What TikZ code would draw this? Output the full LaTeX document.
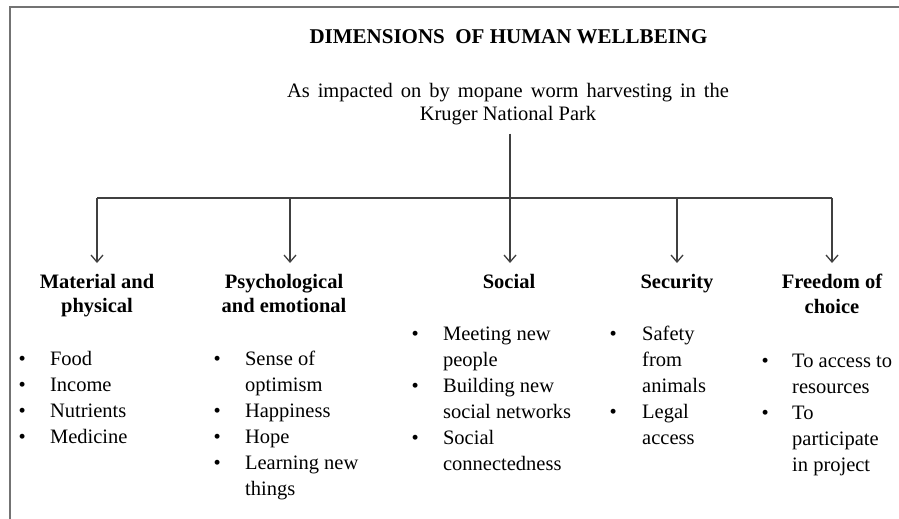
\documentclass[tikz,border=0pt]{standalone}
\usepackage{fontspec}
\setmainfont{Liberation Serif}
\usetikzlibrary{arrows.meta}
% one bullet cell of a list column
\newcommand\dotcell{\makebox[31.5pt][l]{\textbullet}}
\begin{document}
\begin{tikzpicture}[x=1pt,y=-1pt,
  frame/.style={draw=black!55, line width=2pt},
  link/.style={draw=black!75, line width=1.3pt},
  feed/.style={link, -{Straight Barb[length=7pt,width=12pt]}, shorten >=11pt},
  titletext/.style={font=\fontsize{21}{25}\bfseries, inner sep=0pt, anchor=base},
  subtext/.style={font=\fontsize{20.5}{23}\selectfont, align=center, inner sep=0pt, anchor=north},
  head/.style={font=\fontsize{20.5}{24.5}\bfseries, align=center, inner sep=0pt, anchor=north},
  items/.style={font=\fontsize{20.5}{26}\selectfont, inner sep=0pt, anchor=base west},
]
\useasboundingbox (0,0) rectangle (899,519);
\fill[white] (0,0) rectangle (899,519);

% open frame along the top and left edges
\draw[frame] (9.5,519) -- (9.5,7.5) -- (899,7.5);

% title and subtitle
\node[titletext] (title) at (508.5,44) {DIMENSIONS\ \ OF HUMAN WELLBEING};
\node[subtext] (sub) at (508,83) {\makebox[442pt][s]{As impacted on by mopane worm harvesting in the}\\[0pt]
  Kruger National Park};

% the five dimensions
\node[head] (h1) at (97,274)  {Material and\\physical};
\node[head] (h2) at (284,274) {Psychological\\and emotional};
\node[head] (h3) at (509,274) {Social};
\node[head] (h4) at (677,274) {Security};
\node[head] (h5) at (832,274) {Freedom of\\choice};

% connectors: stem, bus and one arrow per dimension
\coordinate (jn) at (510,198);
\coordinate (b1) at (97,198);
\coordinate (b2) at (290,198);
\coordinate (b3) at (510,198);
\coordinate (b4) at (677,198);
\coordinate (b5) at (832,198);
\draw[link, shorten <=8.5pt] (jn |- sub.south) -- (jn);
\draw[link] (b1) -- (b5);
\foreach \i in {1,...,5} {
  \draw[feed] (b\i) -- (b\i |- h\i.north);
}

% item lists
\node[items] (l1) at (18.4,365) {\begin{tabular}[t]{@{}l@{}l@{}}
  \dotcell & Food\\
  \dotcell & Income\\
  \dotcell & Nutrients\\
  \dotcell & Medicine
\end{tabular}};
\node[items] (l2) at (213.4,365) {\begin{tabular}[t]{@{}l@{}l@{}}
  \dotcell & Sense of\\
           & optimism\\
  \dotcell & Happiness\\
  \dotcell & Hope\\
  \dotcell & Learning new\\
           & things
\end{tabular}};
\node[items] (l3) at (411.4,340) {\begin{tabular}[t]{@{}l@{}l@{}}
  \dotcell & Meeting new\\
           & people\\
  \dotcell & Building new\\
           & social networks\\
  \dotcell & Social\\
           & connectedness
\end{tabular}};
\node[items] (l4) at (609.4,340) {\begin{tabular}[t]{@{}l@{}l@{}}
  \makebox[32.6pt][l]{\textbullet} & Safety\\
           & from\\
           & animals\\
  \makebox[32.6pt][l]{\textbullet} & Legal\\
           & access
\end{tabular}};
\node[items] (l5) at (761.4,367) {\begin{tabular}[t]{@{}l@{}l@{}}
  \makebox[30.6pt][l]{\textbullet} & To access to\\
           & resources\\
  \makebox[30.6pt][l]{\textbullet} & To\\
           & participate\\
           & in project
\end{tabular}};
\end{tikzpicture}
\end{document}
